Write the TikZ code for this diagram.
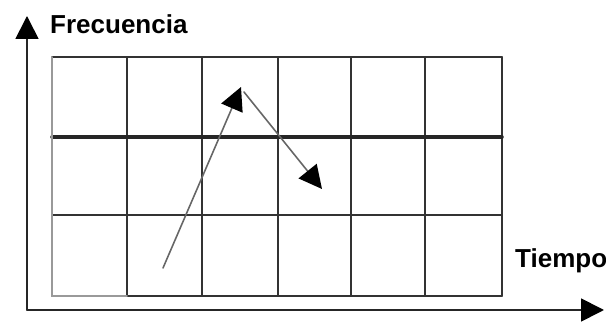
\documentclass[tikz,border=0pt]{standalone}
\usepackage{fontspec}
\setsansfont{Liberation Sans}
\usetikzlibrary{arrows.meta}

\begin{document}
\begin{tikzpicture}[x=0.02cm,y=-0.02cm,>={Triangle[length=4.6mm,width=4.6mm,color=black]},line cap=round,
  font=\sffamily\bfseries\fontsize{14.8}{17}\selectfont]
\useasboundingbox (0,0) rectangle (606,324);
% grid
\foreach \x in {127,202,278,351,425,502}
  \draw[black!80,line width=1.1pt] (\x,57) -- (\x,296);
\foreach \y in {57,215}
  \draw[black!80,line width=1.1pt] (52,\y) -- (502,\y);
\draw[black!80,line width=1.1pt] (127,296) -- (502,296);
\draw[black!85,line width=2pt] (52,137) -- (502,137);
\draw[black!40,line width=1.1pt] (52,57) -- (52,296) -- (127,296);
% axes
\coordinate (origen) at (27,310);
\coordinate (ytip) at (27,16);
\coordinate (xtip) at (604,310);
\draw[->,black!85,line width=1pt] (origen) -- (ytip);
\draw[->,black!85,line width=1pt] (origen) -- (xtip);
\node[anchor=west] (frec) at (44,24) {Frecuencia};
\node[anchor=west] (tiempo) at (509,261) {Tiempo};
% salto
\coordinate (ini) at (163,268);
\coordinate (pico) at (241,87);
\coordinate (pico2) at (244,92);
\coordinate (fin) at (322,189);
\draw[->,black!60,line width=0.9pt] (ini) -- (pico);
\draw[->,black!60,line width=0.9pt] (pico2) -- (fin);
\end{tikzpicture}
\end{document}
